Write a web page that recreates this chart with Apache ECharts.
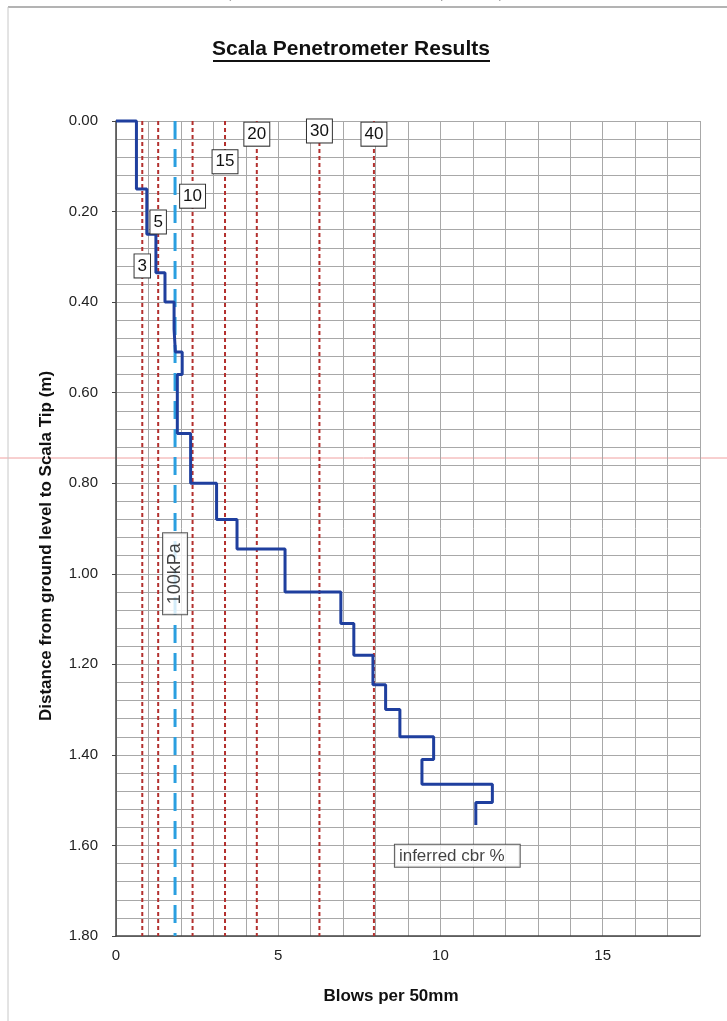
<!DOCTYPE html>
<html><head><meta charset="utf-8">
<script src="https://cdn.jsdelivr.net/npm/echarts@6/dist/echarts.min.js"></script>
<style>html,body{margin:0;padding:0;background:#fff}#c{width:727px;height:1021px}</style>
</head><body><div id="c"></div>
<script>
// ---- data ----
const depthBottom = [0.15,0.25,0.335,0.40,0.46,0.51,0.56,0.69,0.80,0.88,0.945,1.04,1.11,1.18,1.245,1.30,1.36,1.41,1.465,1.505,1.555];
const blows       = [0.63,0.95,1.23,1.51,1.79,1.83,2.04,1.89,2.30,3.10,3.73,5.21,6.93,7.33,7.92,8.31,8.75,9.79,9.43,11.60,11.09];
const cbrLabels = ['3','5','10','15','20','30','40'];
const cbrBlows  = [0.81,1.30,2.36,3.36,4.34,6.27,7.95];
const cbrLabelDepth = [0.32,0.223,0.166,0.09,0.029,0.022,0.029];
const kpaLabel = '100kPa';
const kpaBlows = 1.82;
const kpaLabelDepth = 1.0;
const noteLabel = 'inferred cbr %';
const notePos = [10.52, 1.623];
const xTicks = [0,5,10,15];
const yTicks = [0,0.2,0.4,0.6,0.8,1.0,1.2,1.4,1.6,1.8];
const titleText = 'Scala Penetrometer Results';
const xName = 'Blows per 50mm';
const yName = 'Distance from ground level to Scala Tip (m)';

// ---- build ----
const FONT = '"Liberation Sans", Arial, sans-serif';
const stepPts = [[0,0]];
let prevDepth = 0;
for (let i = 0; i < blows.length; i++) {
  stepPts.push([blows[i], prevDepth]);
  stepPts.push([blows[i], depthBottom[i]]);
  prevDepth = depthBottom[i];
}
const series = [];
cbrBlows.forEach((b) => {
  series.push({type:'line', xAxisIndex:0, yAxisIndex:0, data:[[b,0],[b,1.8]], symbol:'none', silent:true,
    lineStyle:{color:'#b3302e', width:2, type:[4,3]}, z:3});
});
series.push({type:'line', xAxisIndex:0, yAxisIndex:0, data:[[kpaBlows,0],[kpaBlows,1.8]], symbol:'none', silent:true,
  lineStyle:{color:'#2a9fe0', width:3, type:[18,10]}, z:3});
series.push({type:'line', xAxisIndex:0, yAxisIndex:0, data:stepPts, symbol:'none', clip:false, silent:true,
  lineStyle:{color:'#1f3f9e', width:3}, z:5});
const boxLabel = {show:true, position:'inside', formatter:'{b}', backgroundColor:'#fff', borderColor:'#333', borderWidth:1,
  color:'#111', fontFamily:FONT, fontSize:17, padding:[4,3,2,3]};
series.push({type:'scatter', xAxisIndex:0, yAxisIndex:0, symbolSize:0, silent:true, z:10,
  itemStyle:{opacity:1},
  data: cbrLabels.map((l,i)=>({name:l, value:[cbrBlows[i], cbrLabelDepth[i]]})),
  label: boxLabel});
series.push({type:'scatter', xAxisIndex:0, yAxisIndex:0, symbolSize:0, silent:true, z:10,
  data:[{name:kpaLabel, value:[kpaBlows, kpaLabelDepth]}],
  label: Object.assign({}, boxLabel, {rotate:90, fontSize:18, padding:[4,10,2,10]})});
series.push({type:'scatter', xAxisIndex:0, yAxisIndex:0, symbolSize:0, silent:true, z:10,
  data:[{name:noteLabel, value:notePos}],
  label: Object.assign({}, boxLabel, {padding:[3,15,2,4]})});

const isTick = (arr, v) => arr.some(t => Math.abs(t - v) < 1e-6);

const chart = echarts.init(document.getElementById('c'), null, {renderer:'canvas'});
chart.setOption({
  animation:false,
  backgroundColor:'#fff',
  grid:{left:116, right:27, top:121, bottom:85, containLabel:false},
  xAxis:[
    {type:'value', min:0, max:18, interval:1, position:'bottom',
     axisLine:{show:true, onZero:false, lineStyle:{color:'#444', width:1.5}}, axisTick:{show:false}, axisLabel:{show:false},
     splitLine:{show:true, lineStyle:{color:'#a8a8a8', width:1}}},
    {type:'value', min:0, max:18, interval:5, position:'bottom',
     axisLine:{show:false}, axisTick:{show:false}, splitLine:{show:false},
     axisLabel:{show:true, margin:12, color:'#222', fontFamily:FONT, fontSize:15, showMaxLabel:false,
       formatter:v => isTick(xTicks, v) ? String(v) : ''}}
  ],
  yAxis:[
    {type:'value', inverse:true, min:0, max:1.8, interval:0.04, position:'left',
     axisLine:{show:true, onZero:false, lineStyle:{color:'#444', width:1.5}}, axisTick:{show:false}, axisLabel:{show:false},
     splitLine:{show:true, lineStyle:{color:'#a8a8a8', width:1}}},
    {type:'value', inverse:true, min:0, max:1.8, interval:0.2, position:'left',
     axisLine:{show:false}, splitLine:{show:false},
     axisTick:{show:true, length:4, inside:false, lineStyle:{color:'#444'}},
     axisLabel:{show:true, margin:18, color:'#222', fontFamily:FONT, fontSize:15,
       formatter:v => isTick(yTicks, v) ? v.toFixed(2) : ''}}
  ],
  series: series,
  graphic:[
    {type:'line', shape:{x1:8, y1:7, x2:727, y2:7}, style:{stroke:'#9a9a9a', lineWidth:1.5}, silent:true},
    {type:'line', shape:{x1:8, y1:7, x2:8, y2:1021}, style:{stroke:'#c8c8c8', lineWidth:1}, silent:true},
    {type:'line', shape:{x1:0, y1:458, x2:727, y2:458}, style:{stroke:'#f0a0a0', lineWidth:1}, silent:true, z:-1},
    {type:'text', x:365, y:-6, style:{text:'( This comment is excluded from the print area )', font:'13px '+FONT, fill:'#999', textAlign:'center', textVerticalAlign:'middle'}, silent:true},
    {type:'text', x:351, y:49, style:{text:titleText, font:'bold 21px '+FONT, fill:'#111', textAlign:'center', textVerticalAlign:'middle'}, silent:true},
    {type:'line', shape:{x1:213, y1:61, x2:490, y2:61}, style:{stroke:'#111', lineWidth:2}, silent:true},
    {type:'text', x:391, y:996, style:{text:xName, font:'bold 17px '+FONT, fill:'#111', textAlign:'center', textVerticalAlign:'middle'}, silent:true},
    {type:'text', x:46, y:546, rotation:Math.PI/2, style:{text:yName, font:'bold 17px '+FONT, fill:'#111', textAlign:'center', textVerticalAlign:'middle'}, silent:true}
  ]
});
</script>
</body></html>
